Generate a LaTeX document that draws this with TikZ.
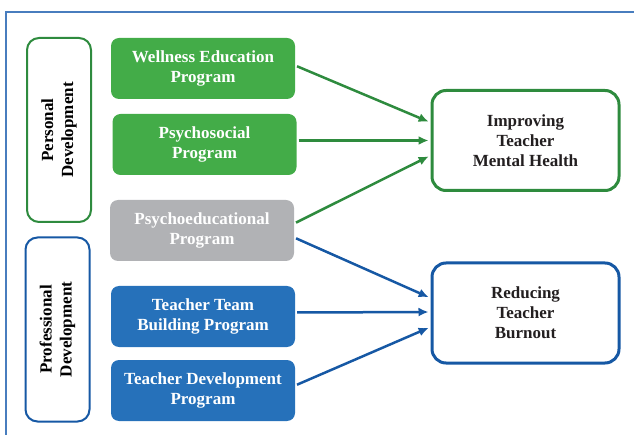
\documentclass[tikz,border=0pt]{standalone}
\usepackage{fontspec}
\setmainfont{Liberation Serif}
\usetikzlibrary{arrows.meta}
\definecolor{leafgreen}{RGB}{67, 172, 72}
\definecolor{forestgreen}{RGB}{46, 139, 62}
\definecolor{oceanblue}{RGB}{38, 113, 186}
\definecolor{navyblue}{RGB}{22, 88, 164}
\definecolor{silvergray}{RGB}{177, 178, 181}
\definecolor{frameblue}{RGB}{72, 125, 190}
\definecolor{inkgray}{RGB}{35, 31, 32}

\begin{document}
\begin{tikzpicture}[x=1pt, y=-1pt,
    boxfont/.style={font=\fontsize{17}{20}\selectfont\bfseries},
    program/.style={boxfont, rounded corners=8pt, minimum width=184pt, minimum height=61pt,
                    inner sep=0pt, text=white, align=center},
    group/.style={boxfont, draw, line width=2pt, rounded corners=12pt, rotate=90,
                  minimum width=184pt, minimum height=64pt, inner sep=0pt, align=center},
    outcome/.style={boxfont, draw, line width=3pt, rounded corners=14pt, fill=white,
                    minimum width=187pt, minimum height=100pt, text=inkgray, align=center},
    link/.style={line width=2.5pt, shorten <=2pt, shorten >=2pt,
                 -{Latex[length=10pt, width=9pt]}}]
            \useasboundingbox (0,0) rectangle (634,435);
            % Outer frame
            \draw[color=frameblue, line width=1.5pt] (6,435) -- (6,12) -- (634,12);
            % Groups
            \node[group, draw=forestgreen] (persdev) at (59,130)     {Personal\\Development};
            \node[group, draw=navyblue]    (profdev) at (57.5,329.5) {Professional\\Development};
            % Programs
            \node[program, fill=leafgreen]  (wellness)  at (203,68.5)    {Wellness Education\\Program};
            \node[program, fill=leafgreen]  (psysocial) at (204.5,144.5) {Psychosocial\\Program};
            \node[program, fill=silvergray] (psyedu)    at (202,230.5)   {Psychoeducational\\Program};
            \node[program, fill=oceanblue]  (teamb)     at (203,316.5)   {Teacher Team\\Building Program};
            \node[program, fill=oceanblue]  (teachdev)  at (203,390.5)   {Teacher Development\\Program};
            % Outcomes
            \node[outcome, draw=forestgreen] (improving) at (525.5,140.5) {Improving\\Teacher\\Mental Health};
            \node[outcome, draw=navyblue]    (reducing)  at (525.5,313)   {Reducing\\Teacher\\Burnout};
            % Links to mental health
            \draw[link, color=forestgreen] ([yshift=3pt]wellness.east) -- ([yshift=18pt]improving.west);
            \draw[link, color=forestgreen] ([yshift=4pt]psysocial.east) -- (improving.west);
            \draw[link, color=forestgreen] ([yshift=7pt]psyedu.east) -- ([yshift=-15pt]improving.west);
            % Links to burnout
            \draw[link, color=navyblue] ([yshift=-7pt]psyedu.east) -- ([yshift=15pt]reducing.west);
            \draw[link, color=navyblue] ([yshift=4pt]teamb.east) -- ([yshift=1pt]reducing.west);
            \draw[link, color=navyblue] ([yshift=5pt]teachdev.east) -- ([yshift=-14pt]reducing.west);
\end{tikzpicture}
\end{document}
